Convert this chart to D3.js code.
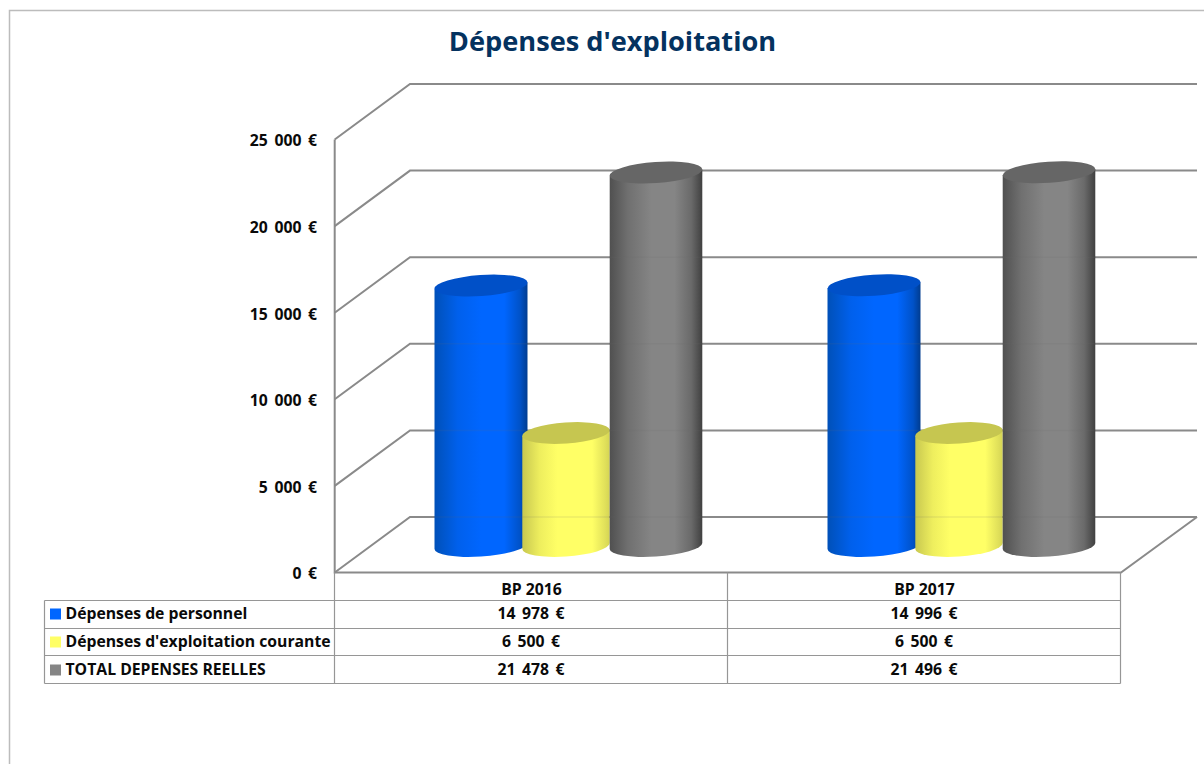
<!DOCTYPE html>
<html><head><meta charset="utf-8">
<script src="https://cdn.jsdelivr.net/npm/d3@7"></script>
<style>html,body{margin:0;padding:0;background:#fff}svg{display:block}text{font-family:"Open Sans",Lato,sans-serif;font-weight:700;fill:#0a0a0a}.num{word-spacing:2.5px}</style>
</head><body><div id="c"></div>
<script>
const titleText = "Dépenses d'exploitation";
const categories = ["BP 2016", "BP 2017"];
const seriesNames = ["Dépenses de personnel", "Dépenses d'exploitation courante", "TOTAL DEPENSES REELLES"];
const personnel = [14978, 14996];
const courante = [6500, 6500];
const totalReel = [21478, 21496];
const tickValues = [0, 5000, 10000, 15000, 20000, 25000];

const seriesValues = [personnel, courante, totalReel];
const W = 1204, H = 764;
const svg = d3.select("#c").append("svg").attr("width", W).attr("height", H);
const defs = svg.append("defs");
const loc = d3.formatLocale({decimal: ",", thousands: " ", grouping: [3], currency: ["", " €"]});
const euro = v => loc.format(",d")(v) + " €";

const LINE = "#8a8a8a";
const colour = d3.scaleOrdinal(seriesNames, ["#0066ff", "#ffff66", "#858585"]);
const topColour = d3.scaleOrdinal(seriesNames, ["#0050c8", "#c6c650", "#666666"]);
const stops = [
  [[0,"#0050b8"],[.25,"#0060ec"],[.5,"#0066ff"],[.75,"#0066ff"],[.92,"#0052c8"],[1,"#003c90"]],
  [[0,"#c8c850"],[.2,"#eeee5e"],[.4,"#ffff66"],[.8,"#ffff66"],[.95,"#e0e05a"],[1,"#d4d454"]],
  [[0,"#505050"],[.2,"#707070"],[.45,"#858585"],[.7,"#858585"],[.88,"#6a6a6a"],[1,"#404040"]]
];
seriesNames.forEach((s, i) => {
  const g = defs.append("linearGradient").attr("id", "g" + i);
  stops[i].forEach(([o, c]) => g.append("stop").attr("offset", o).attr("stop-color", c));
});

// scales
const x = d3.scaleBand(categories, [335, 1121]);
const yFront = d3.scaleLinear([0, 25000], [572.5, 139.5]);
const yBack = d3.scaleLinear([0, 25000], [517, 84]);
const yBar = d3.scaleLinear([0, 25000], [546, 111.3]);
const seriesX = d3.scaleOrdinal(seriesNames, [146, 231, 321]);
const seriesRx = d3.scaleOrdinal(seriesNames, [46.6, 43.8, 46.4]);

// outer frame
svg.append("path").attr("d", `M9.5,${H}V10.5H${W}`).attr("fill", "none").attr("stroke", "#bcbcbc").attr("stroke-width", 1.5);

// title
svg.append("text").attr("x", 612.5).attr("y", 50.5).attr("text-anchor", "middle")
  .attr("font-size", 27.2).style("fill", "#04325f").text(titleText);

// walls
const wall = svg.append("g").attr("fill", "none").attr("stroke", LINE);
tickValues.forEach(t => {
  wall.append("path").attr("stroke-width", 2)
    .attr("d", `M334.7,${yFront(t)}L410,${yBack(t)}H1197`);
});
wall.append("path").attr("stroke-width", 2).attr("d", `M334.7,${yFront(25000)}V${yFront(0)}H1121L1197,${yBack(0)}`);

// y axis labels
const fs = 15.75;
const axis = svg.append("g").attr("transform", "translate(322,0)")
  .call(d3.axisLeft(yFront).tickValues(tickValues).tickFormat(euro).tickSize(0).tickPadding(0));
axis.select(".domain").remove();
axis.selectAll("text").attr("class", "num").attr("font-size", fs).attr("x", -5).attr("dy", "0.4em");
axis.attr("font-family", null).attr("font-size", null);

// cylinders
const theta = -4 * Math.PI / 180, ry = 10.5;
function ends(rx) {
  const hw = Math.sqrt(rx*rx*Math.cos(theta)**2 + ry*ry*Math.sin(theta)**2);
  const off = (rx*rx - ry*ry) * Math.sin(theta) * Math.cos(theta) / hw;
  return [hw, off];
}
const deg = theta * 180 / Math.PI;
const bars = svg.append("g");
categories.forEach((cat, c) => {
  seriesNames.forEach((s, i) => {
    const cx = x(cat) + seriesX(s), rx = seriesRx(s);
    const yb = yBar(0), yt = yBar(seriesValues[i][c]);
    const [hw, off] = ends(rx);
    bars.append("path").attr("fill", `url(#g${i})`)
      .attr("d", `M${cx-hw},${yt-off}L${cx-hw},${yb-off}A${rx},${ry},${deg},0,0,${cx+hw},${yb+off}L${cx+hw},${yt+off}Z`);
    // wall gridlines faintly showing through the translucent cylinders
    tickValues.filter(t => yBack(t) > yt + ry && yBack(t) < yb).forEach(t => {
      bars.append("line").attr("x1", cx - hw).attr("x2", cx + hw).attr("y1", yBack(t)).attr("y2", yBack(t))
        .attr("stroke", "#6e6e6e").attr("stroke-opacity", 0.12).attr("stroke-width", 1.5);
    });
    bars.append("ellipse").attr("fill", topColour(s))
      .attr("cx", cx).attr("cy", yt).attr("rx", rx).attr("ry", ry)
      .attr("transform", `rotate(${deg},${cx},${yt})`);
  });
});

// table
const rows = [572.5, 600.5, 628.5, 655.5, 683.5];
const cols = [44.5, 334.5, 727.5, 1120.5];
const tbl = svg.append("g").attr("fill", "none").attr("stroke", "#969696").attr("stroke-width", 1.2);
rows.slice(1).forEach(r => tbl.append("path").attr("d", `M${cols[0]},${r}H${cols[3]}`));
tbl.append("path").attr("d", `M${cols[0]},${rows[1]}V${rows[4]}`);
cols.slice(1).forEach(cx => tbl.append("path").attr("d", `M${cx},${rows[0]}V${rows[4]}`));

const textY = d3.scaleOrdinal(seriesNames, [619, 647, 675]);
categories.forEach((cat, c) => {
  const cx = x(cat) + x.bandwidth() / 2 - 0.5;
  svg.append("text").attr("x", cx + 0.5).attr("y", 595).attr("text-anchor", "middle").attr("font-size", fs).text(cat);
  seriesNames.forEach((s, i) => {
    svg.append("text").attr("class", "num").attr("x", cx).attr("y", textY(s)).attr("text-anchor", "middle")
      .attr("font-size", fs).text(euro(seriesValues[i][c]));
  });
});
seriesNames.forEach((s, i) => {
  svg.append("rect").attr("x", 50).attr("y", textY(s) - 10.5).attr("width", 11).attr("height", 11).attr("fill", colour(s));
  svg.append("text").attr("x", 65.5).attr("y", textY(s)).attr("font-size", fs).text(s);
});
</script></body></html>
